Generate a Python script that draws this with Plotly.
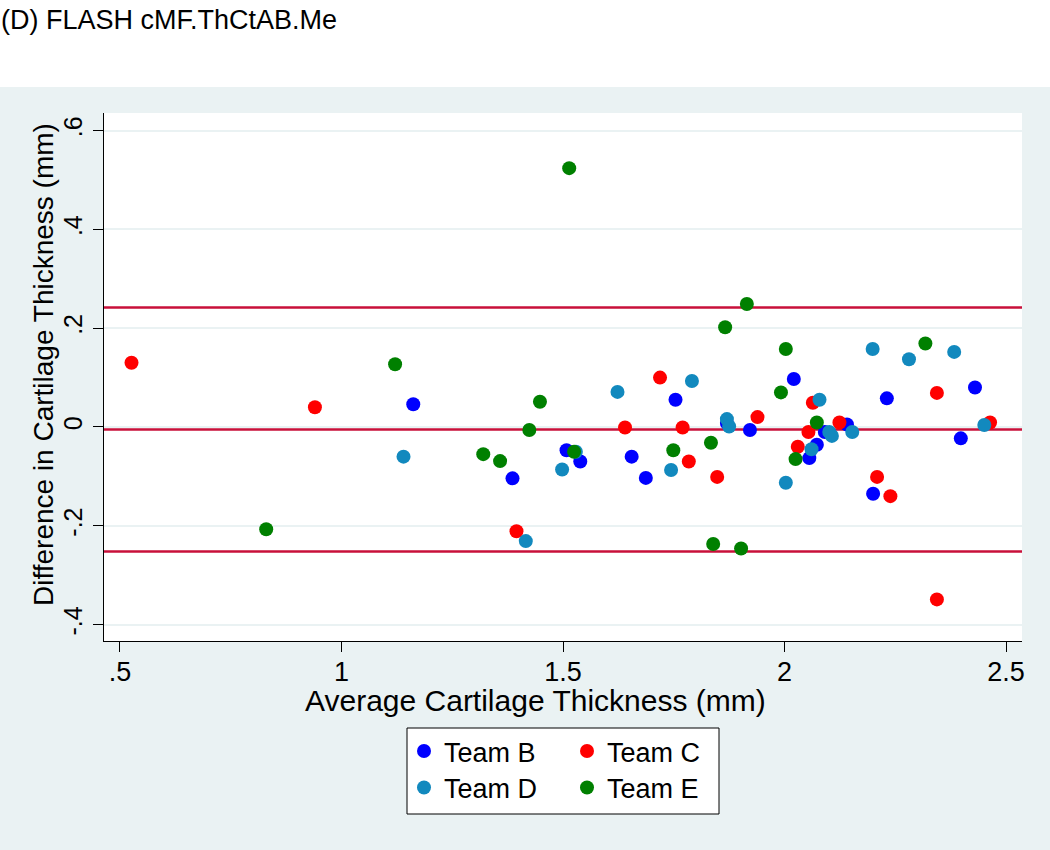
import plotly.graph_objects as go

# ---- data ----
team_b_x = [1.162, 1.386, 1.508, 1.539, 1.655, 1.687, 1.754, 1.870, 1.922, 2.021, 2.056, 2.073, 2.091, 2.141, 2.200, 2.231, 2.398, 2.430]
team_b_y = [0.046, -0.104, -0.047, -0.070, -0.060, -0.103, 0.055, 0.008, -0.006, 0.097, -0.063, -0.036, -0.010, 0.005, -0.135, 0.058, -0.023, 0.080]

team_c_x = [0.526, 0.940, 1.395, 1.640, 1.719, 1.770, 1.784, 1.848, 1.939, 2.030, 2.054, 2.064, 2.124, 2.209, 2.239, 2.344, 2.344, 2.464]
team_c_y = [0.130, 0.040, -0.211, -0.001, 0.100, -0.001, -0.070, -0.101, 0.020, -0.040, -0.010, 0.049, 0.009, -0.101, -0.140, 0.069, -0.349, 0.009]

team_d_x = [1.140, 1.416, 1.498, 1.529, 1.623, 1.744, 1.791, 1.870, 1.875, 2.003, 2.061, 2.079, 2.101, 2.107, 2.153, 2.199, 2.281, 2.383, 2.451]
team_d_y = [-0.060, -0.231, -0.086, -0.050, 0.071, -0.087, 0.093, 0.016, 0.001, -0.113, -0.045, 0.055, -0.010, -0.018, -0.010, 0.158, 0.137, 0.152, 0.004]

team_e_x = [0.830, 1.121, 1.320, 1.358, 1.424, 1.448, 1.514, 1.525, 1.749, 1.834, 1.839, 1.866, 1.902, 1.915, 1.992, 2.003, 2.025, 2.073, 2.318]
team_e_y = [-0.207, 0.127, -0.055, -0.069, -0.006, 0.051, 0.524, -0.050, -0.047, -0.032, -0.237, 0.202, -0.246, 0.249, 0.070, 0.158, -0.065, 0.009, 0.169]

team_names = ["Team B", "Team C", "Team D", "Team E"]
mean_diff = -0.005
upper_loa = 0.242
lower_loa = -0.252

x_tickvals = [0.5, 1, 1.5, 2, 2.5]
x_ticktext = [".5", "1", "1.5", "2", "2.5"]
y_tickvals = [-0.4, -0.2, 0, 0.2, 0.4, 0.6]
y_ticktext = ["-.4", "-.2", "0", ".2", ".4", ".6"]

title_text = "(D) FLASH cMF.ThCtAB.Me"
x_title = "Average Cartilage Thickness (mm)"
y_title = "Difference in Cartilage Thickness (mm)"

# ---- styling ----
FONT = "Liberation Sans, Arial, Helvetica, sans-serif"
BG = "#EAF2F3"
colors = ["#0000FF", "#FF0000", "#1289BE", "#008000"]
LINE_RED = "#C8103A"

W, H = 1050, 850
L, R, T, B = 104, 28, 113, 209
pw, ph = W - L - R, H - T - B


def px_x(p):
    return (p - L) / pw


def px_y(p):
    return (H - B - p) / ph


fig = go.Figure()

series = [(team_b_x, team_b_y), (team_c_x, team_c_y), (team_d_x, team_d_y), (team_e_x, team_e_y)]
legend_ids = ["legend", "legend", "legend2", "legend2"]
for (xs, ys), name, col, lg in zip(series, team_names, colors, legend_ids):
    fig.add_trace(go.Scatter(
        x=xs, y=ys, mode="markers", name=name,
        marker=dict(size=14, color=col, line=dict(width=0)),
        legend=lg,
    ))

for yv in [upper_loa, mean_diff, lower_loa]:
    fig.add_shape(type="line", xref="paper", yref="y", x0=0, x1=1, y0=yv, y1=yv,
                  line=dict(color=LINE_RED, width=2.5), layer="between")

# white strip at the top behind the title
fig.add_shape(type="rect", xref="paper", yref="paper",
              x0=px_x(-5), x1=px_x(W + 5), y0=px_y(87), y1=px_y(-5),
              fillcolor="white", line=dict(width=0), layer="below")

# legend frame
fig.add_shape(type="rect", xref="paper", yref="paper",
              x0=px_x(407), x1=px_x(719), y0=px_y(728), y1=px_y(814),
              fillcolor="white", line=dict(color="black", width=1), layer="above")

# axis titles placed precisely
fig.add_annotation(text=y_title, xref="paper", yref="paper",
                   x=px_x(43), y=px_y(365), xanchor="center", yanchor="middle",
                   textangle=-90, showarrow=False,
                   font=dict(family=FONT, size=28, color="black"))
fig.add_annotation(text=x_title, xref="paper", yref="paper",
                   x=px_x(535), y=px_y(700), xanchor="center", yanchor="middle",
                   showarrow=False,
                   font=dict(family=FONT, size=30, color="black"))

leg_common = dict(orientation="h", xanchor="left", yanchor="middle",
                  bgcolor="rgba(0,0,0,0)", borderwidth=0,
                  font=dict(family=FONT, size=27, color="black"),
                  entrywidth=118, entrywidthmode="pixels", itemsizing="trace")

fig.update_layout(
    width=W, height=H,
    margin=dict(l=L, r=R, t=T, b=B, autoexpand=False),
    paper_bgcolor=BG, plot_bgcolor="white",
    font=dict(family=FONT, color="black"),
    title=dict(text=title_text, xref="container", yref="container",
               x=1 / W, xanchor="left", y=1 - 20 / H, yanchor="middle",
               font=dict(family=FONT, size=27, color="black")),
    showlegend=True,
    legend=dict(x=px_x(404), y=px_y(751.5), **leg_common),
    legend2=dict(x=px_x(404), y=px_y(788), **leg_common),
    xaxis=dict(range=[0.4639, 2.5361], tickvals=x_tickvals, ticktext=x_ticktext,
               showgrid=False, zeroline=False, showline=True, linecolor="black", linewidth=1.2,
               ticks="outside", ticklen=10, tickwidth=1.2, tickcolor="black",
               ticklabelstandoff=-4,
               tickfont=dict(family=FONT, size=27, color="black"),
               automargin=False),
    yaxis=dict(range=[-0.4332, 0.6356], tickvals=y_tickvals, ticktext=y_ticktext,
               showgrid=True, gridcolor=BG, gridwidth=2, zeroline=False,
               showline=True, linecolor="black", linewidth=1.2,
               ticks="outside", ticklen=10, tickwidth=1.2, tickcolor="black",
               tickangle=-90, ticklabelstandoff=1,
               tickfont=dict(family=FONT, size=25, color="black"),
               automargin=False),
)

fig.write_html("out.html", config={"displayModeBar": False},
               post_script="document.body.style.margin='0';")
